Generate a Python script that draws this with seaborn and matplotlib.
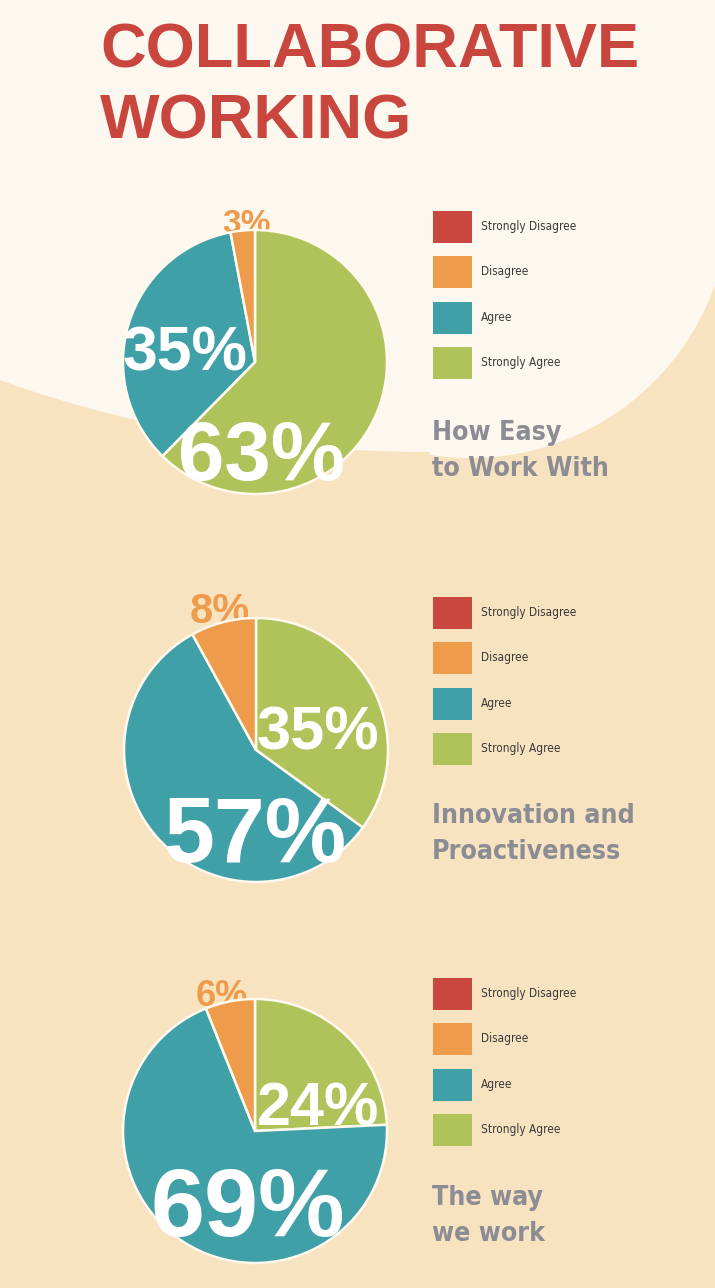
import numpy as np
import matplotlib
matplotlib.use("Agg")
import matplotlib.pyplot as plt
import seaborn as sns
from matplotlib import font_manager
from matplotlib.patches import Patch, Polygon
from matplotlib.textpath import TextPath
from matplotlib.font_manager import FontProperties

W, H = 715, 1288

# ---- data ----
categories = ["Strongly Disagree", "Disagree", "Agree", "Strongly Agree"]
chart_titles = [["How Easy", "to Work With"],
                ["Innovation and", "Proactiveness"],
                ["The way", "we work"]]
easy_to_work = [0, 3, 35, 63]
innovation = [0, 8, 57, 35]
way_we_work = [0, 6, 69, 24]
all_values = [easy_to_work, innovation, way_we_work]

palette = sns.color_palette(["#C9473F", "#EE9B4B", "#40A0A7", "#B0C35B"])
cream = "#FCF8EF"
tan = "#F8E3C1"
title_red = "#C8463D"
sub_grey = "#8B8C94"

sns.set_theme(style="white")
plt.rcParams["font.family"] = ["Liberation Sans", "DejaVu Sans"]


def wnum(w):
    if isinstance(w, str):
        return font_manager.weight_dict.get(w, 400)
    return int(w)


def snum(s):
    if isinstance(s, str):
        return font_manager.stretch_dict.get(s, 500)
    return int(s)


def pick_condensed(target_weight):
    # look for a narrow / condensed latin sans face, closest to the wanted weight
    best, best_score = None, None
    for f in font_manager.fontManager.ttflist:
        nm = f.name.lower()
        if f.style != "normal" or "mono" in nm or "cjk" in nm or "serif" in nm:
            continue
        if not (snum(f.stretch) < 500 or "narrow" in nm or "condensed" in nm):
            continue
        if not any(k in nm for k in ["liberation", "dejavu", "noto sans", "roboto",
                                      "open sans", "lato", "inter"]):
            continue
        score = abs(wnum(f.weight) - target_weight)
        if best_score is None or score < best_score:
            best, best_score = f, score
    if best is None:
        return FontProperties(family=["Liberation Sans", "DejaVu Sans"],
                              weight="bold" if target_weight >= 600 else "normal")
    return FontProperties(fname=best.fname)


def fit_size(text, prop, width_px):
    ext = TextPath((0, 0), text, size=100, prop=prop).get_extents()
    return width_px * 72 / ext.width


sub_prop = pick_condensed(900)
leg_prop = pick_condensed(450)
title_prop = FontProperties(family=["Liberation Sans", "DejaVu Sans"], weight="bold")
num_prop = FontProperties(family=["Liberation Sans", "DejaVu Sans"], weight="bold")

sub_size = fit_size("to Work With", sub_prop, 175)
leg_size = fit_size("Strongly Disagree", leg_prop, 93)
title_size = fit_size("COLLABORATIVE", title_prop, 534)

fig = plt.figure(figsize=(W / 100, H / 100), dpi=100)
fig.patch.set_facecolor(tan)
ax = fig.add_axes([0, 0, 1, 1])
ax.set_facecolor(tan)

# light cloud at the top (pixel coords, y down)
t1 = np.arctan2(285 - 198, 715 - 470)
t2 = np.arctan2(452 - 198, 430 - 470)
tc = np.linspace(t1, t2, 80)
circ = np.column_stack([470 + 260 * np.cos(tc), 198 + 260 * np.sin(tc)])
te = np.linspace(np.pi / 2, np.arccos(-430 / 794), 80)
ell = np.column_stack([430 + 794 * np.cos(te), 452 * np.sin(te)])
cloud = np.vstack([[[0, 0], [W, 0], [W, 285]], circ, ell, [[0, 380]]])
ax.add_patch(Polygon(cloud, closed=True, facecolor=cream, edgecolor="none", zorder=0))

# title
ax.text(100, 67, "COLLABORATIVE", fontproperties=title_prop, fontsize=title_size,
        color=title_red, ha="left", va="baseline")
ax.text(100, 138, "WORKING", fontproperties=title_prop, fontsize=title_size,
        color=title_red, ha="left", va="baseline")

centers = [(255, 362), (256, 750), (255, 1131)]
radius = 132
legend_tops = [211, 597, 978]
sub_baselines = [440, 823, 1205]

# label layout: category index -> (left x, baseline y, size)
label_layout = [
    {1: (222, 233, 24), 2: (123, 370, 45), 3: (178, 480, 60)},
    {1: (190, 623, 30), 2: (163, 862, 66), 3: (257, 749, 44)},
    {1: (196, 1006, 26), 2: (151, 1236, 70), 3: (257, 1125, 44)},
]

for i, vals in enumerate(all_values):
    cx, cy = centers[i]
    # clockwise from 12 o'clock: Strongly Agree, Agree, Disagree, Strongly Disagree
    order = [k for k in [3, 2, 1, 0] if vals[k] > 0]
    ax.pie([vals[k] for k in order], colors=[palette[k] for k in order],
           startangle=-90, counterclock=True, center=(cx, cy), radius=radius,
           wedgeprops=dict(edgecolor="#FFF9EE", linewidth=1.8, zorder=3))

    for k, (lx, ly, fs) in label_layout[i].items():
        small = k == 1
        ax.text(lx, ly, f"{vals[k]}%", fontproperties=num_prop, fontsize=fs,
                color=palette[1] if small else "white", ha="left", va="baseline",
                zorder=2 if small else 5)

    # legend: squares 39x32 px, row pitch 45 px
    fpx = leg_size * 100 / 72
    hh = (32 / fpx - 0.245) / 0.65
    handles = [Patch(facecolor=palette[k], edgecolor="none", label=categories[k])
               for k in range(4)]
    lp = leg_prop.copy()
    lp.set_size(leg_size)
    fig.legend(handles=handles, loc="upper left",
               bbox_to_anchor=(433 / W, 1 - legend_tops[i] / H),
               bbox_transform=fig.transFigure, frameon=False,
               borderpad=0, borderaxespad=0,
               handlelength=39 / fpx, handleheight=hh,
               labelspacing=13.3 / fpx, handletextpad=9 / fpx,
               prop=lp, labelcolor="#3A3A3A")

    # subtitle
    for j, line in enumerate(chart_titles[i]):
        ax.text(432, sub_baselines[i] + 36 * j, line, fontproperties=sub_prop,
                fontsize=sub_size, color=sub_grey, ha="left", va="baseline")

ax.set_xlim(0, W)
ax.set_ylim(H, 0)
ax.set_axis_off()

fig.savefig("out.png", dpi=100, facecolor=tan)
